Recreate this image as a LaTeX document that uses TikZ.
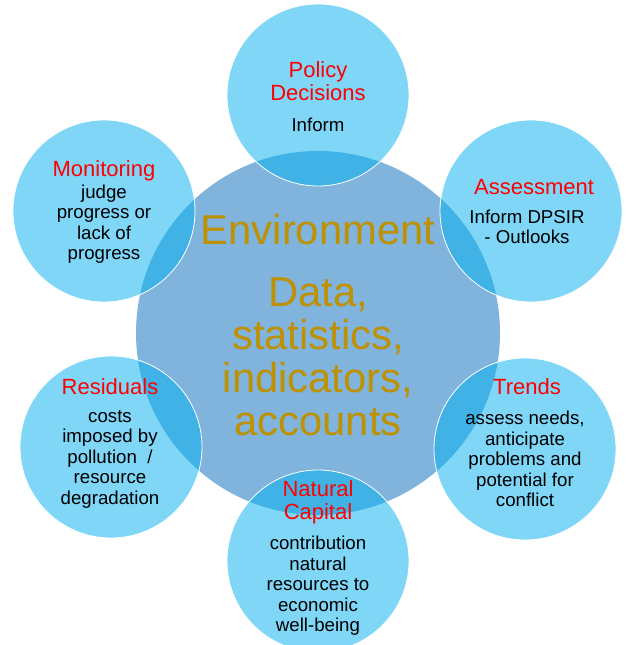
\documentclass[tikz,border=0pt]{standalone}
\usepackage{fontspec}
\setmainfont{Liberation Sans}
\definecolor{petal}{HTML}{7FD6F7}
\definecolor{core}{HTML}{80B4DC}
\definecolor{overlap}{HTML}{40B2E5}
\definecolor{gold}{HTML}{BF9000}
\tikzset{
  petal/.style={circle, fill=petal, minimum size=136.5pt, inner sep=0pt},
  core/.style={circle, fill=core, minimum size=273pt, inner sep=0pt},
  head/.style={text=red, align=center, font=\fontsize{16.5}{17.25}\selectfont},
  body/.style={text=black, align=center, font=\fontsize{14}{15.4}\selectfont},
  big/.style={text=gold, align=center, font=\fontsize{31.3}{32.25}\selectfont}
}
\begin{document}
\begin{tikzpicture}[x=0.75pt, y=-0.75pt]
    \useasboundingbox (0,0) rectangle (625,645);
    \node[core] (env) at (318,333) {};
    \node[petal] (policy) at (318,95) {};
    \node[petal] (assess) at (531,211) {};
    \node[petal] (trends) at (525,449) {};
    \node[petal] (natcap) at (318,561) {};
    \node[petal] (resid) at (111,447) {};
    \node[petal] (monit) at (104,211) {};
    \foreach \p in {policy,assess,trends,natcap,resid,monit}{
      \begin{scope}
        \clip (env) circle[radius=136.5pt];
        \fill[overlap] (\p) circle[radius=68.25pt];
      \end{scope}
      \draw[white, line width=0.6pt] (\p) circle[radius=68.25pt];
    }
    \node[big] (envtitle) at (318,230) {Environment};
    \node[big] (envdata) at (318,357) {Data,\\statistics,\\indicators,\\accounts};
    \node[head] (policyhead) at (318,81) {Policy\\Decisions};
    \node[body] (policybody) at (318,125) {Inform};
    \node[head] (monithead) at (104,171) {Monitoring};
    \node[body] (monitbody) at (104,224) {judge\\progress or\\lack of\\progress};
    \node[head] (assesshead) at (534,187) {Assessment};
    \node[body] (assessbody) at (527,227) {Inform DPSIR\\- Outlooks};
    \node[head] (residhead) at (110,387) {Residuals};
    \node[body] (residbody) at (110,459) {costs\\imposed by\\pollution \ /\\resource\\degradation};
    \node[head] (trendshead) at (527,387) {Trends};
    \node[body] (trendsbody) at (525,459) {assess needs,\\anticipate\\problems and\\potential for\\conflict};
    \node[head] (natcaphead) at (318,502) {Natural\\Capital};
    \node[body] (natcapbody) at (318,586) {contribution\\natural\\resources to\\economic\\well-being};
\end{tikzpicture}
\end{document}
